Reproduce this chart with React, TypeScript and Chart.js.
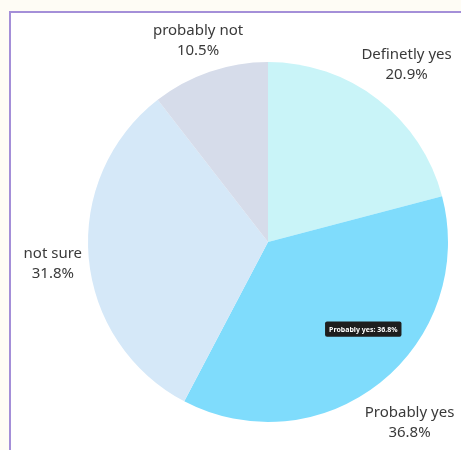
import React, { useEffect, useRef } from "react";
import { Chart, registerables, Tooltip } from "chart.js";

Chart.register(...registerables);

const categories = ["Definetly yes", "Probably yes", "not sure", "probably not"];
const values = [20.9, 36.8, 31.8, 10.5];
const colors = ["#c9f4f8", "#7fdcfc", "#d5e8f8", "#d6dcea"];

(Tooltip.positioners as any).below = function (elements: any[]) {
  if (!elements.length) return false;
  const p = elements[0].element.tooltipPosition(true);
  return { x: p.x + 3, y: p.y + 9 };
};

const outsideLabels = {
  id: "outsideLabels",
  afterDatasetsDraw(chart: any) {
    const ctx = chart.ctx;
    const meta = chart.getDatasetMeta(0);
    ctx.save();
    ctx.font = "15px 'Noto Sans', sans-serif";
    ctx.fillStyle = "#3a3a3a";
    ctx.textAlign = "center";
    ctx.textBaseline = "middle";
    meta.data.forEach((arc: any, i: number) => {
      const { x, y, startAngle, endAngle, outerRadius } = arc.getProps(
        ["x", "y", "startAngle", "endAngle", "outerRadius"],
        true
      );
      const mid = (startAngle + endAngle) / 2;
      const r = outerRadius + 36 + 18 * Math.max(0, Math.cos(mid));
      const lx = x + Math.cos(mid) * r;
      const ly = y + Math.sin(mid) * r + 3;
      ctx.fillText(categories[i], lx, ly - 10);
      ctx.fillText(values[i].toFixed(1) + "%", lx, ly + 10);
    });
    ctx.restore();
  },
};

export default function App() {
  const ref = useRef<HTMLCanvasElement>(null);
  useEffect(() => {
    document.body.style.margin = "0";
    const chart = new Chart(ref.current!, {
      type: "pie",
      data: {
        labels: categories,
        datasets: [
          {
            data: values,
            backgroundColor: colors,
            borderWidth: 0,
            hoverOffset: 0,
          },
        ],
      },
      options: {
        responsive: false,
        animation: false,
        events: [],
        layout: { padding: { left: 88, right: 13, top: 62, bottom: 28 } },
        plugins: {
          legend: { display: false },
          tooltip: {
            enabled: true,
            position: "below" as any,
            backgroundColor: "#1e1e1e",
            bodyColor: "#ffffff",
            bodyFont: { size: 7, weight: "bold", family: "'Noto Sans', sans-serif" },
            padding: { left: 4, right: 4, top: 4, bottom: 3 },
            cornerRadius: 2,
            caretSize: 0,
            caretPadding: 0,
            displayColors: false,
            xAlign: "left",
            yAlign: "top",
            callbacks: {
              title: () => "",
              label: (c: any) => c.label + ": " + c.parsed.toFixed(1) + "%",
            },
          },
        },
      },
      plugins: [outsideLabels],
    });
    chart.tooltip!.setActiveElements([{ datasetIndex: 0, index: 1 }], { x: 0, y: 0 });
    chart.update();
    return () => chart.destroy();
  }, []);
  return (
    <div style={{ position: "relative", width: 461, height: 450, background: "#fefcf5", overflow: "hidden" }}>
      <div
        style={{
          position: "absolute",
          left: 9,
          top: 11,
          width: 452,
          height: 439,
          background: "#ffffff",
          borderTop: "2px solid #a48fd8",
          borderLeft: "2px solid #a48fd8",
          boxSizing: "border-box",
        }}
      />
      <canvas ref={ref} width={461} height={450} style={{ position: "absolute", left: 0, top: 0 }} />
    </div>
  );
}
